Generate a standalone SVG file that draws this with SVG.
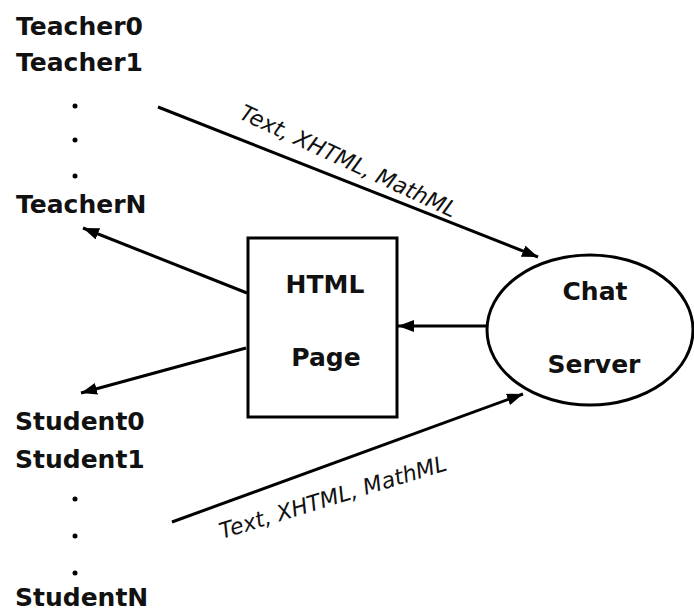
<svg xmlns="http://www.w3.org/2000/svg" width="694" height="613" viewBox="0 0 694 613">
<defs>
<marker id="ah" markerUnits="userSpaceOnUse" markerWidth="18" markerHeight="12" refX="16" refY="6" orient="auto">
<path d="M0,0 L16,6 L0,12 z" fill="#000"/>
</marker>
<style>
.lbl{font-family:"DejaVu Sans",Verdana,sans-serif;font-weight:bold;font-size:25px;fill:#111}
.edge{font-family:"DejaVu Sans",Verdana,sans-serif;font-style:oblique;font-size:22px;fill:#111}
.ln{stroke:#000;stroke-width:3;fill:none;marker-end:url(#ah)}
.shape{stroke:#000;stroke-width:3;fill:#fff}
.dot{fill:#000}
</style>
</defs>
<rect width="694" height="613" fill="#fff"/>
<g id="teachers">
<text class="lbl" x="16" y="35">Teacher0</text>
<text class="lbl" x="16" y="71">Teacher1</text>
<circle class="dot" cx="75" cy="106" r="2.5"/>
<circle class="dot" cx="75" cy="140" r="2.5"/>
<circle class="dot" cx="75" cy="176" r="2.5"/>
<text class="lbl" x="16" y="213">TeacherN</text>
</g>
<g id="students">
<text class="lbl" x="15" y="430">Student0</text>
<text class="lbl" x="15" y="468">Student1</text>
<circle class="dot" cx="75" cy="499" r="2.5"/>
<circle class="dot" cx="75" cy="536" r="2.5"/>
<circle class="dot" cx="75" cy="573" r="2.5"/>
<text class="lbl" x="15" y="606">StudentN</text>
</g>
<g id="html-page">
<rect class="shape" x="248" y="238" width="149" height="179"/>
<text class="lbl" x="325" y="293" text-anchor="middle">HTML</text>
<text class="lbl" x="326" y="366" text-anchor="middle">Page</text>
</g>
<g id="chat-server">
<ellipse class="shape" cx="590" cy="330" rx="103" ry="75"/>
<text class="lbl" x="595" y="300" text-anchor="middle">Chat</text>
<text class="lbl" x="594" y="373" text-anchor="middle">Server</text>
</g>
<g id="connectors">
<line class="ln" x1="158" y1="107" x2="538" y2="257"/>
<line class="ln" x1="247" y1="293" x2="83" y2="228"/>
<line class="ln" x1="246" y1="348" x2="81" y2="393"/>
<line class="ln" x1="486" y1="326" x2="398" y2="326"/>
<line class="ln" x1="172" y1="522" x2="523" y2="394"/>
<text class="edge" transform="translate(238,118) rotate(25)">Text, XHTML, MathML</text>
<text class="edge" transform="translate(222,539) rotate(-17)">Text, XHTML, MathML</text>
</g>
</svg>
